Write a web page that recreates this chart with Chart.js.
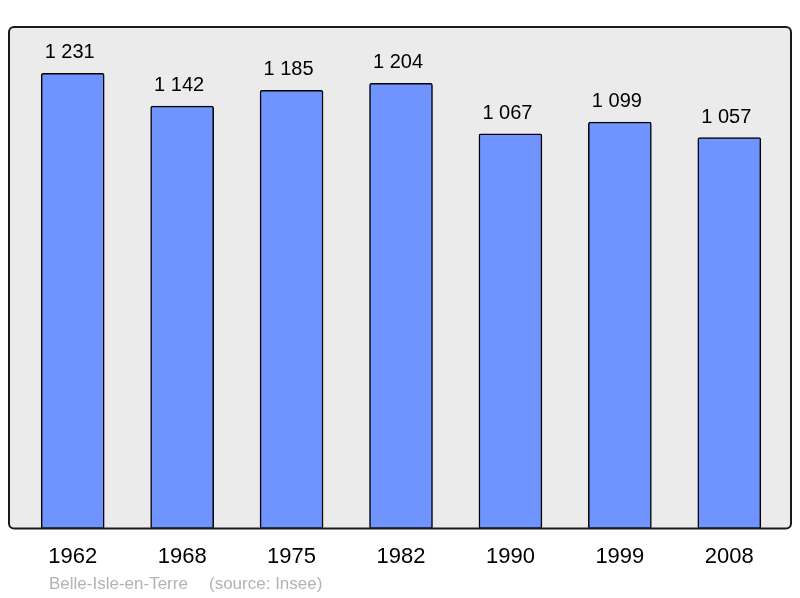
<!DOCTYPE html>
<html>
<head>
<meta charset="utf-8">
<script src="https://cdn.jsdelivr.net/npm/chart.js@4/dist/chart.umd.min.js"></script>
<style>
  body { margin: 0; background: #fff; }
</style>
</head>
<body>
<canvas id="pop" width="800" height="598"></canvas>
<script>
var years = ['1962', '1968', '1975', '1982', '1990', '1999', '2008'];
var population = [1231, 1142, 1185, 1204, 1067, 1099, 1057];
var townName = 'Belle-Isle-en-Terre';
var sourceText = '(source: Insee)';

function fmt(n) {
    return String(n).replace(/\B(?=(\d{3})+(?!\d))/g, ' ');
}

// grey frame behind the bars, border on top
var framePlugin = {
    id: 'frame',
    beforeDatasetsDraw: function(chart) {
        var ctx = chart.ctx, a = chart.chartArea;
        ctx.save();
        ctx.beginPath();
        ctx.roundRect(9, a.top, 782, a.bottom - a.top, 5);
        ctx.fillStyle = '#ebebeb';
        ctx.fill();
        ctx.restore();
    },
    afterDatasetsDraw: function(chart) {
        var ctx = chart.ctx, a = chart.chartArea;
        ctx.save();
        ctx.beginPath();
        ctx.roundRect(9, a.top, 782, a.bottom - a.top, 5);
        ctx.lineWidth = 2;
        ctx.strokeStyle = '#1a1a1a';
        ctx.stroke();

        // values above bars
        ctx.font = '20px "Liberation Sans", Arial, sans-serif';
        ctx.fillStyle = '#000';
        ctx.textAlign = 'center';
        ctx.textBaseline = 'alphabetic';
        chart.getDatasetMeta(0).data.forEach(function(bar, i) {
            ctx.fillText(fmt(population[i]), bar.x - 3, bar.y - 15);
        });

        ctx.font = '17px "Liberation Sans", Arial, sans-serif';
        ctx.fillStyle = '#b3b3b3';
        ctx.textAlign = 'left';
        ctx.fillText(townName, 49, 589);
        ctx.fillText(sourceText, 209, 589);
        ctx.restore();
    }
};

new Chart(document.getElementById('pop'), {
    type: 'bar',
    data: {
        labels: years,
        datasets: [{
            data: population,
            backgroundColor: '#7094ff',
            borderColor: '#000',
            borderWidth: 1.5,
            borderRadius: 2,
            borderSkipped: false,
            barThickness: 63
        }]
    },
    options: {
        responsive: false,
        animation: false,
        layout: { padding: { top: 27, left: 18, right: 16, bottom: 13 } },
        plugins: { legend: { display: false }, tooltip: { enabled: false } },
        scales: {
            x: {
                grid: { display: false, drawTicks: false },
                border: { display: false },
                ticks: {
                    color: '#000',
                    padding: 15,
                    font: { family: '"Liberation Sans", Arial, sans-serif', size: 22 }
                }
            },
            y: {
                display: false,
                min: 0,
                max: 1356
            }
        }
    },
    plugins: [framePlugin]
});
</script>
</body>
</html>
